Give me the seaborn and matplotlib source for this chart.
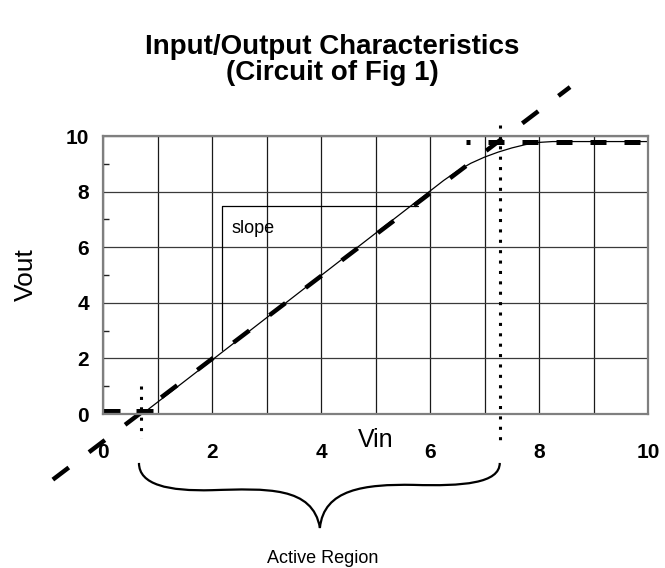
import numpy as np
import pandas as pd
import matplotlib
matplotlib.use("Agg")
import matplotlib.pyplot as plt
import seaborn as sns
from matplotlib.path import Path
from matplotlib.patches import PathPatch

# ---- data ----
vin_curve = [0.0, 0.72, 2.0, 4.0, 6.0, 6.25, 6.5, 6.75, 7.0, 7.25, 7.5, 7.75, 8.0, 8.25, 9.0, 10.0]
vout_curve = [0.0, 0.0, 1.94, 4.98, 8.02, 8.40, 8.74, 9.02, 9.24, 9.42, 9.57, 9.69, 9.77, 9.80, 9.80, 9.80]

ideal_vin = [-0.92, 8.57]
ideal_vout = [-2.36, 11.76]
low_vin = [0.0, 0.92]
low_vout = [0.1, 0.1]
high_vin = [6.66, 10.0]
high_vout = [9.8, 9.8]

thresh_low_x = [0.69, 0.69]
thresh_low_y = [1.0, -0.86]
thresh_high_x = [7.28, 7.28]
thresh_high_y = [10.4, -1.0]

slope_box_x = [2.18, 2.18, 5.78]
slope_box_y = [2.3, 7.48, 7.48]

x_ticks = [0, 2, 4, 6, 8, 10]
y_ticks = [0, 2, 4, 6, 8, 10]

title = "Input/Output Characteristics\n(Circuit of Fig 1)"

sns.set_theme(style="white")
plt.rcParams["font.family"] = ["Liberation Sans", "DejaVu Sans"]
plt.rcParams["text.color"] = "black"
plt.rcParams["axes.labelcolor"] = "black"
plt.rcParams["xtick.color"] = "black"
plt.rcParams["ytick.color"] = "black"

fig = plt.figure(figsize=(6.65, 5.68), dpi=100)
ax = fig.add_axes([103 / 665, 1 - 414 / 568, 545 / 665, 278 / 568])

ax.set_xlim(0, 10)
ax.set_ylim(0, 10)

# grid
ax.set_xticks(x_ticks)
ax.set_xticks([1, 3, 5, 7, 9], minor=True)
ax.set_yticks(y_ticks)
ax.set_yticks([1, 3, 5, 7, 9], minor=True)
ax.grid(True, which="both", axis="x", color="#1a1a1a", lw=0.9)
ax.grid(True, which="major", axis="y", color="#3a3a3a", lw=0.9)
ax.set_axisbelow(True)

for s in ax.spines.values():
    s.set_color("#7f7f7f")
    s.set_linewidth(1.6)

line_kw = dict(color="black", errorbar=None, sort=False, estimator=None)


def draw(xs, ys, lw, ls=None, clip=True):
    sns.lineplot(x=xs, y=ys, ax=ax, lw=lw, clip_on=clip, **line_kw)
    ln = ax.lines[-1]
    if ls is not None:
        ln.set_linestyle(ls)
        ln.set_dash_capstyle("butt")
    return ln


# transfer curve
draw(vin_curve, vout_curve, 0.9)

# ideal dashed
draw(ideal_vin, ideal_vout, 3.2, (0, (4.5, 5.7)), clip=False)
draw(low_vin, low_vout, 3.6, (0, (3.4, 3.2)), clip=False)
draw(high_vin, high_vout, 3.6, (2.4, (3.2, 3.6)), clip=False)

# threshold dotted lines
draw(thresh_low_x, thresh_low_y, 2.2, (0, (1, 2.4)), clip=False)
draw(thresh_high_x, thresh_high_y, 2.2, (0, (1, 2.4)), clip=False)

# slope box
draw(slope_box_x, slope_box_y, 0.9)
ax.text(2.35, 6.69, "slope", fontsize=13, va="center", ha="left")

ax.tick_params(axis="x", which="both", length=0, pad=21, labelsize=15)
ax.tick_params(axis="y", which="major", length=0, pad=10, labelsize=15)
ax.tick_params(axis="y", which="minor", length=4.5, width=1.0, direction="in",
               color="#222222", left=True)
ax.set_xticklabels([str(v) for v in x_ticks])
ax.set_yticklabels([str(v) for v in y_ticks])
for lab in ax.get_xticklabels() + ax.get_yticklabels():
    lab.set_fontweight("bold")

# labels
ax.set_xlabel("Vin", fontsize=18)
ax.xaxis.set_label_coords(0.5, -0.05)
ax.set_ylabel("Vout", fontsize=19)
ax.yaxis.set_label_coords(-0.12, 0.5)

fig.text(0.5, 1 - 34 / 568, title, ha="center", va="top", fontsize=20,
         fontweight="bold", linespacing=1.0)

# brace
verts = [
    (0.66, -1.76),
    (0.66, -2.55), (1.2, -2.78), (2.0, -2.74),
    (3.0, -2.68), (3.85, -2.6), (3.98, -4.1),
    (4.05, -2.7), (4.8, -2.52), (5.7, -2.55),
    (6.6, -2.6), (7.28, -2.5), (7.28, -1.76),
]
codes = [Path.MOVETO] + [Path.CURVE4] * 12
brace = PathPatch(Path(verts, codes), fill=False, lw=1.6, ec="black",
                  clip_on=False, transform=ax.transData)
ax.add_patch(brace)
ax.text(4.04, -5.18, "Active Region", fontsize=13, ha="center", va="center",
        clip_on=False)

fig.savefig("out.png", dpi=100)
